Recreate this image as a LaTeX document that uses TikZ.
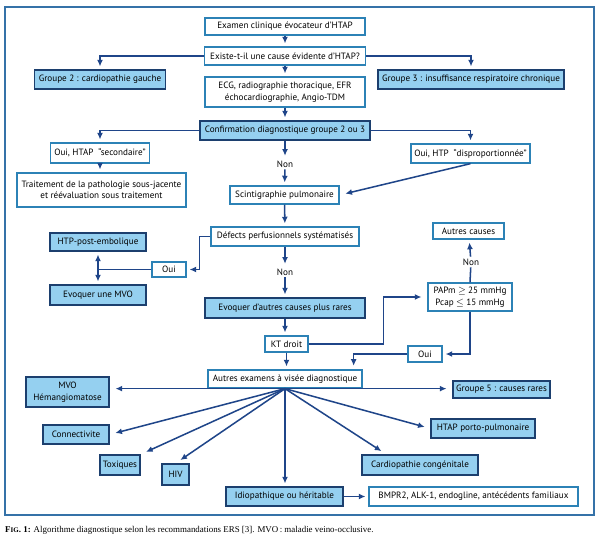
\documentclass[tikz,border=0pt]{standalone}
\usepackage{fontspec}
\setmainfont{PT Sans}
\newfontfamily\capfont{Liberation Serif}
\usetikzlibrary{arrows.meta,positioning,calc}
\definecolor{navy}{HTML}{1F4589}
\definecolor{frameline}{HTML}{3572A8}
\definecolor{boxline}{HTML}{2C82B6}
\definecolor{darkline}{HTML}{1C3F6E}
\definecolor{skyfill}{HTML}{95D0F0}
\tikzset{
  plain/.style={draw=boxline,fill=white,line width=1.1pt,align=center,
    inner sep=1pt,font=\fontsize{7.8}{9.8}\selectfont},
  key/.style={plain,draw=darkline,fill=skyfill},
  boxdim/.style 2 args={minimum width=#1*0.03cm,minimum height=#2*0.03cm},
  arrow/.style={-{Latex[length=2mm,width=1.8mm]},draw=navy,line width=1.3pt,
    shorten >=2.5pt},
  fan/.style={arrow,shorten >=5pt},
  link/.style={draw=navy,line width=1.3pt},
  answer/.style={font=\fontsize{7.8}{9.8}\selectfont,inner sep=1.5pt}
}
\begin{document}
\begin{tikzpicture}[x=0.03cm,y=-0.03cm]
  \useasboundingbox (0,0) rectangle (600,540);
  \draw[frameline,line width=1pt] (5,7) rectangle (594,515);

  \node[plain,boxdim={160}{17}] (exam) at (285,26.5) {Examen clinique évocateur d'HTAP};
  \node[plain,boxdim={161}{18}] (cause) at (285,56) {Existe-t-il une cause évidente d'HTAP?};
  \node[key,boxdim={131}{19}] (grp2) at (100,79.5) {Groupe 2 : cardiopathie gauche};
  \node[key,boxdim={186}{19}] (grp3) at (471,79.5) {Groupe 3 : insuffisance respiratoire chronique};
  \node[plain,boxdim={160}{30}] (ecg) at (285,92) {ECG, radiographie thoracique, EFR\\échocardiographie, Angio-TDM};
  \node[key,boxdim={170}{19}] (conf) at (285,130.5) {Confirmation diagnostique groupe 2 ou 3};
  \node[plain,boxdim={99}{20}] (second) at (100,153) {Oui, HTAP\ \ ``secondaire''};
  \node[plain,boxdim={119}{19}] (dispro) at (470.5,153.5) {Oui, HTP\ \ ``disproportionnée''};
  \node[plain,boxdim={169}{34}] (trait) at (101.5,190) {Traitement de la pathologie sous-jacente\\et réévaluation sous traitement};
  \node[answer] (non1) at (285,164) {Non};
  \node[plain,boxdim={109}{18}] (scint) at (284.5,195) {Scintigraphie pulmonaire};
  \node[plain,boxdim={148}{19}] (defect) at (285,236.5) {Défects perfusionnels systématisés};
  \node[plain,boxdim={34}{15}] (oui1) at (169,269.5) {Oui};
  \node[key,boxdim={96}{18}] (embol) at (98,242) {HTP-post-embolique};
  \node[key,boxdim={96}{20}] (mvo) at (98,295) {Evoquer une MVO};
  \node[answer] (non2) at (285,272) {Non};
  \node[key,boxdim={160}{20}] (rare) at (285,308) {Evoquer d'autres causes plus rares};
  \node[plain,boxdim={43}{16}] (kt) at (286.5,344) {KT droit};
  \node[plain,boxdim={84}{28}] (papm) at (470,297) {PAPm \ensuremath{\geq} 25 mmHg\\Pcap \ensuremath{\leq} 15 mmHg};
  \node[answer] (non3) at (471,262) {Non};
  \node[plain,boxdim={71}{16}] (other) at (468.5,231) {Autres causes};
  \node[plain,boxdim={34}{16}] (oui2) at (425,354) {Oui};
  \node[plain,boxdim={154}{18}] (exams) at (285,379) {Autres examens à visée diagnostique};
  \node[key,boxdim={83}{30}] (hemang) at (67.5,392) {MVO\\Hémangiomatose};
  \node[key,boxdim={97}{17}] (grp5) at (501.5,389.5) {Groupe 5 : causes rares};
  \node[key,boxdim={66}{19}] (connect) at (76,434.5) {Connectivite};
  \node[key,boxdim={40}{20}] (toxic) at (120,465) {Toxiques};
  \node[key,boxdim={27}{21}] (hiv) at (175.5,474.5) {HIV};
  \node[key,boxdim={117}{19}] (idio) at (284.5,496.5) {Idiopathique ou héritable};
  \node[plain,boxdim={209}{19}] (gene) at (473.5,496.5) {BMPR2, ALK-1, endogline, antécédents familiaux};
  \node[key,boxdim={116}{20}] (congen) at (420,465) {Cardiopathie congénitale};
  \node[key,boxdim={104}{19}] (porto) at (483,428.5) {HTAP porto-pulmonaire};

  \draw[arrow] (exam) -- (cause);
  \draw[arrow] (cause.west) -| (grp2.north);
  \draw[arrow] (cause.east) -| (grp3.north);
  \draw[arrow] (cause) -- (ecg);
  \draw[arrow] (ecg) -- (conf);
  \draw[arrow] (conf.west) -| (second.north);
  \draw[arrow] (conf.east) -| (dispro.north);
  \draw[arrow] (second) -- (second |- trait.north);
  \draw[arrow] (conf) -- (non1);
  \draw[arrow] (non1) -- (scint);
  \draw[arrow,shorten >=5pt] (dispro.south) -- (scint.east);
  \draw[arrow] (scint) -- (defect);
  \draw[arrow] (defect.west) -- ++(-11,0) |- (oui1.east);
  \draw[arrow] (oui1.west) -| (embol.south);
  \draw[arrow] (oui1.west) -| (mvo.north);
  \draw[arrow] (defect) -- (non2);
  \draw[arrow] (non2) -- (rare);
  \draw[arrow] (rare) -- (rare |- kt.north);
  \draw[arrow,shorten >=5pt] (kt.east) -- ++(75,0) |- (papm.west);
  \draw[link] (papm.north) -- (non3);
  \draw[arrow] (non3) -- (other);
  \draw[arrow] (papm.south) |- (oui2.east);
  \draw[arrow,shorten >=3pt] (oui2.west) -| ($(exams.north east)+(-9,0)$);
  \draw[arrow] (kt) -- (kt |- exams.north);
  \draw[fan] (exams.south) -- (exams.south -| hemang.east);
  \draw[fan] (exams.south) -- (exams.south -| grp5.west);
  \draw[fan] (exams.south) -- (connect.east);
  \draw[fan] (exams.south) -- (toxic.north east);
  \draw[fan] (exams.south) -- (hiv.north);
  \draw[arrow] (exams.south) -- (exams.south |- idio.north);
  \draw[fan] (exams.south) -- ($(congen.north west)+(25,0)$);
  \draw[fan] (exams.south) -- (porto.west);
  \draw[arrow] (idio) -- (gene);

  \node[anchor=west,inner sep=0,font=\capfont\fontsize{7.6}{8.6}\selectfont] (caption) at (5,530)
    {\textbf{F{\fontsize{6}{7}\selectfont IG}. 1:} Algorithme diagnostique selon les recommandations ERS [3]. MVO\,: maladie veino-occlusive.};
\end{tikzpicture}
\end{document}
